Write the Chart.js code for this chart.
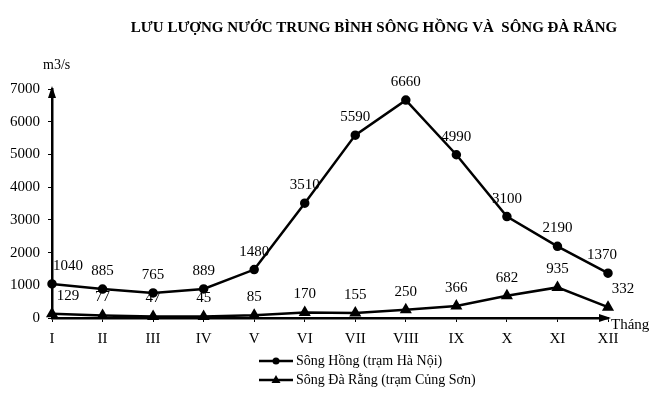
<!DOCTYPE html>
<html>
<head>
<meta charset="utf-8">
<script src="https://cdn.jsdelivr.net/npm/chart.js@4.4.1/dist/chart.umd.min.js"></script>
<style>
  html, body { margin: 0; padding: 0; background: #fff; }
  #wrap { width: 660px; height: 403px; position: relative; }
</style>
</head>
<body>
<div id="wrap"><canvas id="flow"></canvas></div>
<script>
const months = ['I', 'II', 'III', 'IV', 'V', 'VI', 'VII', 'VIII', 'IX', 'X', 'XI', 'XII'];
const songHong = [1040, 885, 765, 889, 1480, 3510, 5590, 6660, 4990, 3100, 2190, 1370];
const songDaRang = [129, 77, 47, 45, 85, 170, 155, 250, 366, 682, 935, 332];
const yTicks = [0, 1000, 2000, 3000, 4000, 5000, 6000, 7000];

const SERIF = "'Liberation Serif', 'DejaVu Serif', serif";

// value labels above each point
const valueLabels = {
    id: 'valueLabels',
    afterDatasetsDraw(chart) {
        const ctx = chart.ctx;
        ctx.save();
        ctx.font = '15px ' + SERIF;
        ctx.fillStyle = '#000';
        ctx.textAlign = 'center';
        ctx.textBaseline = 'middle';
        chart.data.datasets.forEach((ds, di) => {
            chart.getDatasetMeta(di).data.forEach((pt, i) => {
                let dx = 0;
                if (i === 0) dx = 16;
                if (di === 1 && i === ds.data.length - 1) dx = 15;
                if (di === 0 && i === ds.data.length - 1) dx = -6;
                ctx.fillText(ds.data[i], pt.x + dx, pt.y - 18);
            });
        });
        ctx.restore();
    }
};

// title, axis units, arrows and the legend
const decorations = {
    id: 'decorations',
    afterDraw(chart) {
        const ctx = chart.ctx;
        const a = chart.chartArea;
        ctx.save();
        ctx.fillStyle = '#000';
        ctx.strokeStyle = '#000';

        ctx.font = 'bold 15px ' + SERIF;
        ctx.textAlign = 'center';
        ctx.textBaseline = 'middle';
        ctx.fillText('LƯU LƯỢNG NƯỚC TRUNG BÌNH SÔNG HỒNG VÀ  SÔNG ĐÀ RẰNG', 374, 28);

        ctx.font = '14px ' + SERIF;
        ctx.textAlign = 'left';
        ctx.fillText('m3/s', 43, 65);
        ctx.font = '15px ' + SERIF;
        ctx.fillText('Tháng', 611, 325);

        // arrow heads
        ctx.beginPath();
        ctx.moveTo(a.left, a.top - 3);
        ctx.lineTo(a.left - 4, a.top + 9);
        ctx.lineTo(a.left + 4, a.top + 9);
        ctx.closePath();
        ctx.fill();
        ctx.beginPath();
        ctx.moveTo(a.right + 3, a.bottom);
        ctx.lineTo(a.right - 9, a.bottom - 4);
        ctx.lineTo(a.right - 9, a.bottom + 4);
        ctx.closePath();
        ctx.fill();

        // legend
        const items = [
            { text: 'Sông Hồng (trạm Hà Nội)', style: 'circle', y: 361 },
            { text: 'Sông Đà Rằng (trạm Củng Sơn)', style: 'triangle', y: 380 }
        ];
        ctx.font = '14px ' + SERIF;
        ctx.textBaseline = 'middle';
        items.forEach(it => {
            ctx.lineWidth = 2.5;
            ctx.beginPath();
            ctx.moveTo(259, it.y);
            ctx.lineTo(293, it.y);
            ctx.stroke();
            ctx.beginPath();
            if (it.style === 'circle') {
                ctx.arc(276, it.y, 3.5, 0, Math.PI * 2);
            } else {
                ctx.moveTo(276, it.y - 5);
                ctx.lineTo(271.5, it.y + 3);
                ctx.lineTo(280.5, it.y + 3);
                ctx.closePath();
            }
            ctx.fill();
            ctx.fillText(it.text, 296, it.y);
        });
        ctx.restore();
    }
};

new Chart(document.getElementById('flow'), {
    type: 'line',
    data: {
        labels: months,
        datasets: [{
            label: 'Sông Hồng (trạm Hà Nội)',
            data: songHong,
            borderColor: '#000',
            backgroundColor: '#000',
            borderWidth: 2.5,
            pointStyle: 'circle',
            pointRadius: 3.5,
            tension: 0,
            clip: false
        }, {
            label: 'Sông Đà Rằng (trạm Củng Sơn)',
            data: songDaRang,
            borderColor: '#000',
            backgroundColor: '#000',
            borderWidth: 2.5,
            pointStyle: 'triangle',
            pointRadius: 4.5,
            tension: 0,
            clip: false
        }]
    },
    options: {
        responsive: true,
        maintainAspectRatio: false,
        animation: false,
        layout: { padding: { top: 89, right: 52, left: 0, bottom: 0 } },
        scales: {
            x: {
                offset: false,
                afterFit(scale) { scale.height = 85; },
                border: { color: '#000', width: 2.5 },
                grid: { drawOnChartArea: false, drawTicks: true, tickLength: 4, color: '#000' },
                ticks: {
                    color: '#000',
                    padding: 8,
                    maxRotation: 0,
                    autoSkip: false,
                    font: { family: SERIF, size: 15 }
                }
            },
            y: {
                min: 0,
                max: 7000,
                afterFit(scale) { scale.width = 52; },
                afterBuildTicks(scale) { scale.ticks = yTicks.map(v => ({ value: v })); },
                border: { color: '#000', width: 2.5 },
                grid: { drawOnChartArea: false, drawTicks: true, tickLength: 4, color: '#000' },
                ticks: {
                    color: '#000',
                    padding: 8,
                    callback: v => String(v),
                    font: { family: SERIF, size: 15 }
                }
            }
        },
        plugins: {
            legend: { display: false },
            tooltip: { enabled: false }
        }
    },
    plugins: [valueLabels, decorations]
});
</script>
</body>
</html>
